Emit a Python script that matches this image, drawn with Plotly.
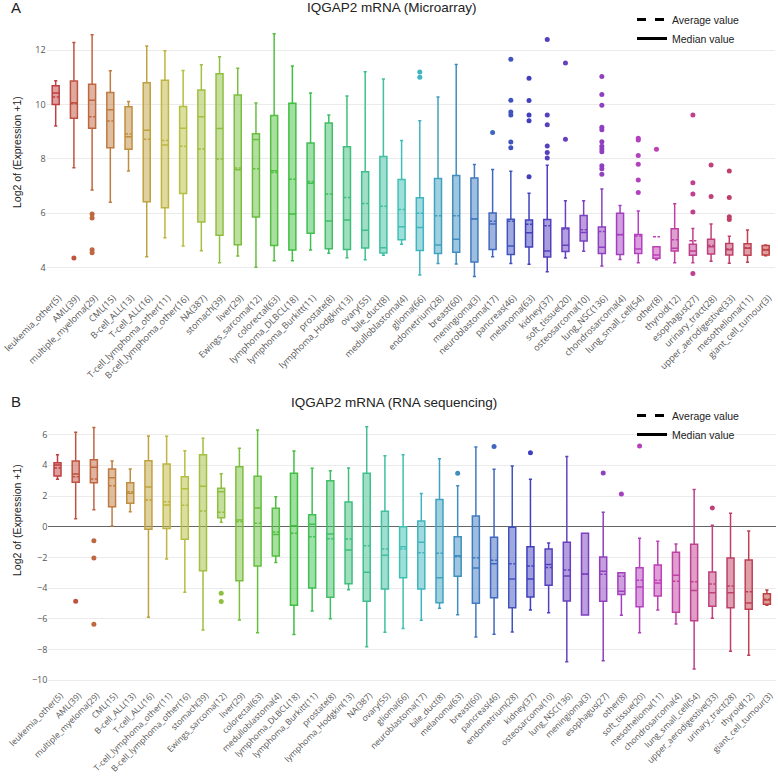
import plotly.graph_objects as go

W, H = 778, 776

# ---------------- Panel A : Microarray ----------------
cats_A = ["leukemia_other(5)", "AML(39)", "multiple_myeloma(29)", "CML(15)", "B-cell_ALL(13)",
          "T-cell_ALL(16)", "T-cell_lymphoma_other(11)", "B-cell_lymphoma_other(16)", "NA(387)",
          "stomach(39)", "liver(29)", "Ewings_sarcoma(12)", "colorectal(63)", "lymphoma_DLBCL(18)",
          "lymphoma_Burkitt(11)", "prostate(8)", "lymphoma_Hodgkin(13)", "ovary(55)", "bile_duct(8)",
          "medulloblastoma(4)", "glioma(66)", "endometrium(28)", "breast(60)", "meningioma(3)",
          "neuroblastoma(17)", "pancreas(46)", "melanoma(63)", "kidney(37)", "soft_tissue(20)",
          "osteosarcoma(10)", "lung_NSC(136)", "chondrosarcoma(4)", "lung_small_cell(54)", "other(8)",
          "thyroid(12)", "esophagus(27)", "urinary_tract(28)", "upper_aerodigestive(33)",
          "mesothelioma(11)", "giant_cell_tumour(3)"]
low_A = [9.21, 7.67, 6.85, 6.40, 7.55, 4.40, 5.10, 4.79, 4.62, 4.18, 4.43, 4.01, 4.25, 4.25, 4.65,
         4.53, 4.36, 4.29, 4.45, 4.86, 3.73, 4.15, 4.13, 3.67, 4.40, 4.15, 4.12, 3.85, 4.35, 4.60,
         4.06, 4.30, 4.18, 4.29, 4.18, 4.18, 4.23, 4.16, 4.20, 4.44]
q1_A = [10.00, 9.49, 9.12, 8.41, 8.35, 6.42, 6.20, 6.72, 5.68, 5.19, 4.84, 5.86, 4.81, 4.65, 5.26,
        4.69, 4.67, 4.72, 4.54, 5.02, 4.63, 4.52, 4.56, 4.21, 4.67, 4.48, 4.76, 4.39, 4.59, 4.98,
        4.52, 4.48, 4.52, 4.34, 4.61, 4.45, 4.50, 4.46, 4.45, 4.46]
med_A = [10.42, 10.06, 10.15, 9.80, 8.81, 9.05, 8.51, 9.12, 9.55, 9.11, 7.60, 8.71, 7.56, 5.97, 7.10,
         5.71, 5.75, 5.37, 4.73, 5.50, 5.47, 4.83, 5.04, 5.79, 5.60, 4.79, 5.28, 4.61, 4.82, 5.29,
         4.75, 5.21, 4.68, 4.46, 4.71, 4.61, 4.77, 4.66, 4.71, 4.65]
q3_A = [10.69, 10.86, 10.74, 10.44, 9.91, 10.80, 10.89, 9.92, 10.53, 11.13, 10.35, 8.92, 9.59, 10.04,
        8.58, 9.32, 8.44, 7.52, 8.08, 7.24, 6.57, 7.28, 7.39, 7.29, 6.01, 5.78, 5.75, 5.77, 5.46,
        5.92, 5.49, 6.00, 5.22, 4.77, 5.43, 4.86, 5.04, 4.89, 4.88, 4.81]
up_A = [10.87, 12.28, 12.56, 11.24, 10.11, 12.15, 11.97, 11.25, 11.46, 11.75, 11.33, 10.05, 12.60,
        11.41, 10.42, 9.61, 10.31, 11.20, 10.93, 8.67, 9.40, 10.27, 11.47, 7.79, 7.61, 7.54, 6.73,
        7.76, 6.46, 6.46, 6.89, 6.28, 6.08, 4.77, 6.35, 5.44, 5.60, 5.15, 5.38, 4.83]
mean_A = [10.27, 10.02, 9.55, 9.39, 8.91, 8.72, 8.67, 8.46, 8.36, 7.99, 7.66, 7.63, 7.50, 7.25, 7.17,
          6.71, 6.58, 6.36, 6.26, 6.14, 6.00, 5.91, 5.91, 5.80, 5.70, 5.70, 5.59, 5.54, 5.42, 5.39,
          5.33, 5.22, 5.16, 5.13, 5.02, 4.99, 4.81, 4.68, 4.73, 4.67]
out_A = [[], [4.35], [5.97, 5.82, 4.66, 4.55], [], [], [], [], [], [], [], [], [], [], [], [], [],
         [], [], [], [], [11.19, 11.00], [], [], [], [8.97],
         [11.66, 10.15, 9.72, 9.61, 8.62, 8.41],
         [10.96, 10.14, 9.61, 9.40, 7.34],
         [12.39, 9.61, 9.25, 8.47, 8.23, 8.03],
         [11.52, 8.72], [],
         [11.03, 10.36, 9.97, 9.16, 9.07, 8.63, 8.46, 8.36, 8.26, 7.74, 7.63, 7.43],
         [], [8.76, 8.69, 8.12, 7.80, 7.22, 6.76], [8.35], [],
         [9.61, 7.12, 6.71, 6.04, 3.78], [7.77, 6.61], [7.55, 6.58, 5.87, 5.77], [], []]

# ---------------- Panel B : RNA sequencing ----------------
cats_B = ["leukemia_other(5)", "AML(39)", "multiple_myeloma(29)", "CML(15)", "B-cell_ALL(13)",
          "T-cell_ALL(16)", "T-cell_lymphoma_other(11)", "B-cell_lymphoma_other(16)", "stomach(39)",
          "Ewings_sarcoma(12)", "liver(29)", "colorectal(63)", "medulloblastoma(4)", "lymphoma_DLBCL(18)",
          "lymphoma_Burkitt(11)", "prostate(8)", "lymphoma_Hodgkin(13)", "NA(387)", "ovary(55)",
          "glioma(66)", "neuroblastoma(17)", "bile_duct(8)", "melanoma(63)", "breast(60)",
          "pancreas(46)", "endometrium(28)", "kidney(37)", "osteosarcoma(10)", "lung_NSC(136)",
          "meningioma(3)", "esophagus(27)", "other(8)", "soft_tissue(20)", "mesothelioma(11)",
          "chondrosarcoma(4)", "lung_small_cell(54)", "upper_aerodigestive(33)", "urinary_tract(28)",
          "thyroid(12)", "giant_cell_tumour(3)"]
low_B = [3.09, 0.52, 1.11, 0.05, 0.98, -5.90, -2.11, -4.27, -6.73, 0.29, -6.08, -6.91, -2.34, -7.03,
         -5.49, -5.99, -4.10, -7.82, -6.88, -6.64, -6.10, -5.32, -5.73, -7.19, -7.01, -6.86, -5.43,
         -5.60, -8.79, -5.75, -8.73, -5.77, -6.91, -5.43, -6.34, -9.27, -5.97, -8.12, -8.38, -5.12]
q1_B = [3.30, 2.89, 2.87, 1.30, 1.52, -0.17, -0.11, -0.82, -2.87, 0.59, -3.52, -2.56, -1.91, -5.12,
        -3.99, -4.60, -3.71, -4.86, -4.06, -3.32, -4.06, -4.95, -3.23, -4.99, -4.63, -5.28, -4.58,
        -3.82, -4.84, -5.75, -4.86, -4.41, -5.21, -4.52, -5.58, -6.12, -5.19, -5.28, -5.38, -5.06]
med_B = [4.02, 3.43, 3.87, 3.19, 2.18, 2.59, 1.41, 2.48, 2.63, 2.28, 0.43, 1.22, -0.50, 0.06, 0.16,
         -0.48, -1.52, -2.97, -1.86, -1.30, -1.02, -3.32, -1.89, -2.69, -2.41, -3.41, -3.41, -2.47,
         -3.21, -3.08, -2.91, -4.21, -3.93, -3.67, -3.17, -4.15, -4.30, -4.30, -4.97, -4.78]
q3_B = [4.17, 4.28, 4.36, 3.76, 2.87, 4.30, 4.08, 3.26, 4.69, 2.50, 3.91, 3.28, 1.20, 3.48, 0.78,
        3.00, 1.61, 3.48, 1.00, 0.00, 0.37, 1.78, -0.65, 0.70, -0.69, -0.04, -1.30, -1.45, -1.02,
        -0.43, -1.98, -3.00, -2.67, -2.50, -1.67, -1.15, -2.95, -2.04, -2.17, -4.36]
up_B = [4.69, 6.15, 6.47, 4.28, 3.76, 5.91, 5.90, 4.95, 5.76, 3.45, 5.11, 6.30, 1.95, 4.93, 3.80,
        3.65, 3.82, 6.51, 4.62, 4.69, 2.17, 4.43, 2.67, 5.19, 3.74, 3.95, 3.09, -1.06, 4.58, -0.43,
        0.94, -3.00, -0.76, -0.95, -1.13, 2.43, 0.09, 0.87, -0.28, -4.13]
mean_B = [3.82, 3.26, 3.11, 2.67, 2.28, 1.74, 1.63, 1.39, 1.02, 0.94, 0.33, 0.22, -0.35, -0.43, -0.65,
          -0.78, -0.80, -1.24, -1.45, -1.45, -1.69, -1.73, -1.95, -2.02, -2.19, -2.41, -2.56, -2.65,
          -2.82, -3.10, -3.10, -3.23, -3.49, -3.49, -3.56, -3.58, -3.73, -3.86, -4.23, -4.73]
out_B = [[], [-4.86], [-0.91, -2.04, -6.36], [], [], [], [], [], [], [-4.34, -4.88], [], [], [], [],
         [], [], [], [], [], [], [], [], [3.48], [], [5.22], [], [4.82], [], [], [], [3.50], [2.13],
         [5.26], [], [], [], [1.22], [], [], []]

# ---------------- pixel calibration of the two panels ----------------
A_top_px, A_bot_px = 18, 286
B_top_px, B_bot_px = 425, 688
A_val = lambda px: 12 - (px - 50) / 27.2
B_val = lambda px: (526.7 - px) / 15.35

fig = go.Figure()


def hue(i, n):
    return 360.0 * i / (n - 1)


def add_panel(cats, low, q1, med, q3, up, mean, outs, xa, ya):
    n = len(cats)
    for i, c in enumerate(cats):
        h = hue(i, n)
        fig.add_trace(go.Box(
            x=[c], q1=[q1[i]], median=[med[i]], q3=[q3[i]],
            lowerfence=[low[i]], upperfence=[up[i]], mean=[mean[i]],
            boxmean=True, boxpoints=False, whiskerwidth=0.45,
            line=dict(color=f"hsl({h:.1f},50%,50%)", width=1.5),
            fillcolor=f"hsla({h:.1f},50%,50%,0.5)",
            xaxis=xa, yaxis=ya, showlegend=False, name=c))
    ox, oy, oc = [], [], []
    for i, c in enumerate(cats):
        for v in outs[i]:
            ox.append(c)
            oy.append(v)
            oc.append(f"hsl({hue(i, n):.1f},50%,50%)")
    fig.add_trace(go.Scatter(x=ox, y=oy, mode="markers",
                             marker=dict(color=oc, size=5),
                             xaxis=xa, yaxis=ya, showlegend=False))


add_panel(cats_A, low_A, q1_A, med_A, q3_A, up_A, mean_A, out_A, "x", "y")
add_panel(cats_B, low_B, q1_B, med_B, q3_B, up_B, mean_B, out_B, "x2", "y2")

# legend entries
for lg, xa, ya in [("legend", "x", "y"), ("legend2", "x2", "y2")]:
    fig.add_trace(go.Scatter(x=[None], y=[None], mode="lines", name="Average value",
                             line=dict(color="black", width=3, dash="dash"),
                             legend=lg, xaxis=xa, yaxis=ya))
    fig.add_trace(go.Scatter(x=[None], y=[None], mode="lines", name="Median value",
                             line=dict(color="black", width=3),
                             legend=lg, xaxis=xa, yaxis=ya))

tickfont = dict(family="Open Sans", size=9, color="#555")
xcommon = dict(type="category", categoryorder="array", tickangle=-45,
               showgrid=False, zeroline=False, showline=False, automargin=False, ticks="",
               autorange=False, ticklabelshift=3)
ycommon = dict(dtick=2, tick0=0, gridcolor="#ebebeb", tickfont=tickfont, showline=False,
               automargin=False, ticks="")

legfont = dict(family="Liberation Sans, Arial", size=10.5, color="#222")
fig.update_layout(
    width=W, height=H, margin=dict(l=0, r=0, t=0, b=0),
    paper_bgcolor="white", plot_bgcolor="white",
    font=dict(family="Open Sans"),
    boxgap=0.45, boxmode="overlay",
    xaxis=dict(domain=[46.6 / W, 774.8 / W], anchor="y", categoryarray=cats_A,
               range=[-0.5, len(cats_A) - 0.5], ticklabelstandoff=4, tickfont=tickfont,
               **xcommon),
    yaxis=dict(domain=[1 - A_bot_px / H, 1 - A_top_px / H], anchor="x",
               range=[A_val(A_bot_px), A_val(A_top_px)], zeroline=False, **ycommon),
    xaxis2=dict(domain=[48.4 / W, 776.0 / W], anchor="y2", categoryarray=cats_B,
                range=[-0.5, len(cats_B) - 0.5], ticklabelstandoff=0,
                tickfont=dict(family="Open Sans", size=8.5, color="#555"), **xcommon),
    yaxis2=dict(domain=[1 - B_bot_px / H, 1 - B_top_px / H], anchor="x2",
                range=[B_val(B_bot_px), B_val(B_top_px)], zeroline=True,
                zerolinecolor="#666", zerolinewidth=1, **ycommon),
    legend=dict(x=632 / W, y=1 - 5 / H, xanchor="left", yanchor="top",
                bgcolor="rgba(0,0,0,0)", font=legfont),
    legend2=dict(x=632 / W, y=1 - 401 / H, xanchor="left", yanchor="top",
                 bgcolor="rgba(0,0,0,0)", font=legfont),
)

tfont = dict(family="Liberation Sans, Arial", color="#222")
ann = [
    dict(text="A", x=16 / W, y=1 - 8 / H, size=15),
    dict(text="IQGAP2 mRNA (Microarray)", x=392 / W, y=1 - 8 / H, size=13.5),
    dict(text="B", x=16 / W, y=1 - 401 / H, size=15),
    dict(text="IQGAP2 mRNA (RNA sequencing)", x=393.5 / W, y=1 - 402 / H, size=13.5),
]
for a in ann:
    fig.add_annotation(text=a["text"], x=a["x"], y=a["y"], xref="paper", yref="paper",
                       xanchor="center", yanchor="middle", showarrow=False,
                       font=dict(size=a["size"], **tfont))
for yc in [152, 520]:
    fig.add_annotation(text="Log2 of (Expression +1)", x=17 / W, y=1 - yc / H,
                       xref="paper", yref="paper", textangle=-90, showarrow=False,
                       xanchor="center", yanchor="middle",
                       font=dict(size=10.5, **tfont))

fig.write_html("out.html", config={"displayModeBar": False},
               post_script="document.body.style.margin='0px';document.body.style.overflow='hidden';")
